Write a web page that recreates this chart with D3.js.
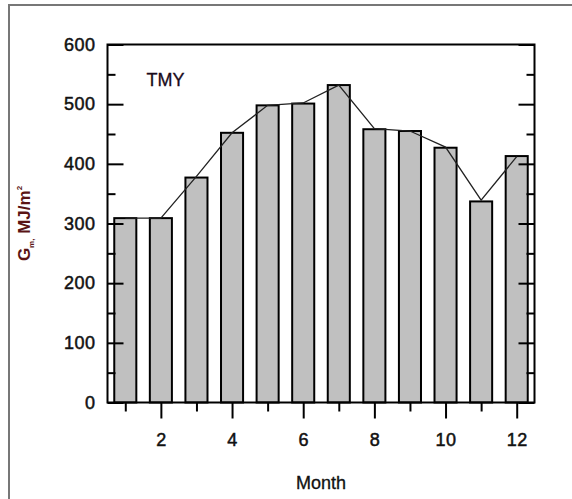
<!DOCTYPE html>
<html>
<head>
<meta charset="utf-8">
<script src="https://cdn.jsdelivr.net/npm/d3@7"></script>
<style>
  body { margin: 0; background: #fff; }
  text { font-family: "Liberation Sans", Arial, sans-serif; }
</style>
</head>
<body>
<div id="chart"></div>
<script>
// monthly values
var months = [1, 2, 3, 4, 5, 6, 7, 8, 9, 10, 11, 12];
var tmyBars = [309, 309, 377, 452, 498, 501, 532, 458, 455, 427, 337, 413];
var tmyLine = [309, 309, 379, 452, 498, 502, 532, 459, 455, 428, 339, 412];
var yTicks = [0, 100, 200, 300, 400, 500, 600];
var yMinor = [50, 150, 250, 350, 450, 550];
var xTicks = [2, 4, 6, 8, 10, 12];
var xMinor = [1, 3, 5, 7, 9, 11];

var margin = {top: 44.5, left: 107.5},
    width = 427,
    height = 358;

var svg = d3.select("#chart")
  .append("svg")
    .attr("width", 572)
    .attr("height", 499);

// outer frame of the figure (only top and left edges show)
svg.append("path")
    .attr("d", "M9,499V5H572")
    .attr("fill", "none")
    .attr("stroke", "#777")
    .attr("stroke-width", 2);

var g = svg.append("g")
    .attr("transform", "translate(" + margin.left + "," + margin.top + ")");

var x = d3.scaleLinear()
    .domain([0.5, 12.5])
    .range([0, width]);

var y = d3.scaleLinear()
    .domain([0, 600])
    .range([height, 0]);

var barW = x(1.31) - x(0.69);

// bars
g.selectAll("rect.bar")
    .data(months)
    .enter()
    .append("rect")
      .attr("class", "bar")
      .attr("x", function(d) { return x(d) - barW / 2; })
      .attr("y", function(d, i) { return y(tmyBars[i]); })
      .attr("width", barW)
      .attr("height", function(d, i) { return height - y(tmyBars[i]); })
      .style("fill", "#c0c0c0")
      .style("stroke", "#000")
      .style("stroke-width", 2);

// line over the bars
var line = d3.line()
    .x(function(d) { return x(d); })
    .y(function(d, i) { return y(tmyLine[i]); });

g.append("path")
    .datum(months)
    .attr("d", line)
    .attr("fill", "none")
    .attr("stroke", "#222")
    .attr("stroke-width", 1.3);

// axes
function styleAxis(sel) {
  sel.select(".domain").remove();
  sel.selectAll("line").attr("stroke", "#000").attr("stroke-width", 2);
  sel.selectAll("text")
    .attr("fill", "#111")
    .attr("stroke", "#111")
    .attr("stroke-width", 0.5)
    .style("font-size", "18px")
    .style("letter-spacing", "0.5px");
}

g.append("g")
    .call(d3.axisLeft(y).tickValues(yTicks).tickSizeInner(-16).tickSizeOuter(0).tickPadding(12))
    .call(styleAxis);
g.append("g")
    .call(d3.axisLeft(y).tickValues(yMinor).tickSizeInner(-8).tickSizeOuter(0).tickFormat(""))
    .call(styleAxis);
g.append("g")
    .attr("transform", "translate(" + width + ",0)")
    .call(d3.axisRight(y).tickValues(yTicks).tickSizeInner(-16).tickSizeOuter(0).tickFormat(""))
    .call(styleAxis);
g.append("g")
    .attr("transform", "translate(" + width + ",0)")
    .call(d3.axisRight(y).tickValues(yMinor).tickSizeInner(-8).tickSizeOuter(0).tickFormat(""))
    .call(styleAxis);

g.append("g")
    .attr("transform", "translate(0," + height + ")")
    .call(d3.axisBottom(x).tickValues(xTicks).tickSizeInner(16).tickSizeOuter(0).tickPadding(15))
    .call(styleAxis);
g.append("g")
    .attr("transform", "translate(0," + height + ")")
    .call(d3.axisBottom(x).tickValues(xMinor).tickSizeInner(9).tickSizeOuter(0).tickFormat(""))
    .call(styleAxis);

// plot frame
g.append("rect")
    .attr("width", width)
    .attr("height", height)
    .attr("fill", "none")
    .attr("stroke", "#000")
    .attr("stroke-width", 2);

// labels
g.append("text")
    .attr("x", 39)
    .attr("y", 41)
    .text("TMY")
    .attr("fill", "#1a0a1a")
    .attr("stroke", "#1a0a1a")
    .attr("stroke-width", 0.3)
    .style("font-size", "18px");

svg.append("text")
    .attr("x", margin.left + width / 2)
    .attr("y", 489)
    .attr("text-anchor", "middle")
    .text("Month")
    .attr("fill", "#111")
    .attr("stroke", "#111")
    .attr("stroke-width", 0.3)
    .style("font-size", "18px");

var yl = svg.append("text")
    .attr("transform", "translate(30," + (margin.top + height / 2) + ") rotate(-90)")
    .attr("text-anchor", "middle")
    .attr("fill", "#5a1414")
    .style("font-weight", "bold")
    .style("font-size", "17px");
yl.append("tspan").text("G");
yl.append("tspan").attr("dy", 4).style("font-size", "8px").text("m,");
yl.append("tspan").attr("dy", -4).text(" MJ/m");
yl.append("tspan").attr("dy", -8).style("font-size", "8px").text("2");
</script>
</body>
</html>
